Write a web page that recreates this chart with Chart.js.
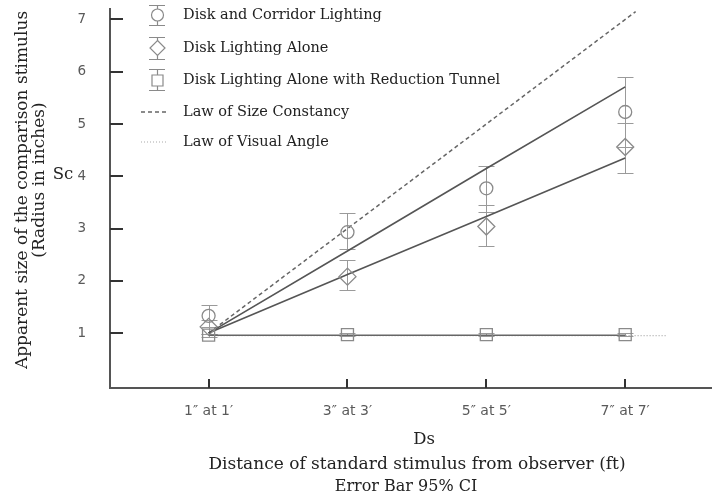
<!DOCTYPE html>
<html>
<head>
<meta charset="utf-8">
<script src="https://cdn.jsdelivr.net/npm/chart.js@4/dist/chart.umd.min.js"></script>
<style>
  html, body { margin: 0; padding: 0; background: #fff; }
  canvas { display: block; }
</style>
</head>
<body>
<canvas id="chart" width="712" height="501"></canvas>
<script>
const xValues = [1, 3, 5, 7];
const xLabels = ['1″ at 1′', '3″ at 3′', '5″ at 5′', '7″ at 7′'];
const yTicks = [1, 2, 3, 4, 5, 6, 7];

const corridorMean = [1.33, 2.93, 3.77, 5.23];
const corridorLow = [1.12, 2.6, 3.31, 4.56];
const corridorHigh = [1.53, 3.29, 4.19, 5.9];
const corridorFit = [1.0, 2.57, 4.15, 5.71];

const aloneMean = [1.12, 2.08, 3.04, 4.56];
const aloneLow = [0.99, 1.82, 2.66, 4.07];
const aloneHigh = [1.25, 2.39, 3.45, 5.02];
const aloneFit = [1.0, 2.12, 3.23, 4.35];

const tunnelMean = [0.96, 0.97, 0.97, 0.97];
const tunnelLow = [0.93, 0.94, 0.94, 0.94];
const tunnelHigh = [0.99, 1.0, 1.0, 1.0];
const tunnelFit = [0.96, 0.96, 0.96, 0.96];

const sizeConstancyX = [1, 7.15];
const sizeConstancyY = [1, 7.15];
const visualAngleX = [1, 7.6];
const visualAngleY = [0.95, 0.95];

const legendLabels = [
  'Disk and Corridor Lighting',
  'Disk Lighting Alone',
  'Disk Lighting Alone with Reduction Tunnel',
  'Law of Size Constancy',
  'Law of Visual Angle',
];

const SERIF = '"DejaVu Serif", serif';
const SANS = '"DejaVu Sans", sans-serif';

const toPoints = (xs, ys) => xs.map((x, i) => ({ x: x, y: ys[i] }));

const markerSet = (label, ys, style, radius) => ({
  label: label,
  data: toPoints(xValues, ys),
  showLine: false,
  pointStyle: style,
  pointRadius: radius,
  pointHoverRadius: radius,
  pointBorderWidth: 1.3,
  borderColor: '#8a8a8a',
  backgroundColor: 'rgba(255,255,255,0)',
});

const lineSet = (label, xs, ys, color, width, dash) => ({
  label: label,
  data: toPoints(xs, ys),
  showLine: true,
  pointRadius: 0,
  borderColor: color,
  borderWidth: width,
  borderDash: dash,
  fill: false,
  tension: 0,
});

// no extra room for tick labels: keep the plot area where the original has it
const noScalePadding = (scale) => {
  scale.paddingTop = 0;
  scale.paddingBottom = 0;
  scale.paddingLeft = 0;
  scale.paddingRight = 0;
};

// error bars, drawn from the low/high arrays through the chart scales
const errorBars = {
  id: 'errorBars',
  beforeDatasetsDraw(chart) {
    const { ctx, scales } = chart;
    const sets = [
      [corridorLow, corridorHigh],
      [aloneLow, aloneHigh],
      [tunnelLow, tunnelHigh],
    ];
    ctx.save();
    ctx.strokeStyle = '#9a9a9a';
    ctx.lineWidth = 1;
    sets.forEach(([low, high]) => {
      xValues.forEach((xv, i) => {
        const px = Math.round(scales.x.getPixelForValue(xv)) + 0.5;
        const yl = Math.round(scales.y.getPixelForValue(low[i])) + 0.5;
        const yh = Math.round(scales.y.getPixelForValue(high[i])) + 0.5;
        ctx.beginPath();
        ctx.moveTo(px, yl);
        ctx.lineTo(px, yh);
        ctx.moveTo(px - 8, yl);
        ctx.lineTo(px + 8, yl);
        ctx.moveTo(px - 8, yh);
        ctx.lineTo(px + 8, yh);
        ctx.stroke();
      });
    });
    ctx.restore();
  },
};

// tick marks point inwards in the original
const innerTicks = {
  id: 'innerTicks',
  afterDraw(chart) {
    const { ctx, scales, chartArea } = chart;
    ctx.save();
    ctx.strokeStyle = '#333';
    ctx.lineWidth = 2;
    yTicks.forEach((v) => {
      const py = Math.round(scales.y.getPixelForValue(v));
      ctx.beginPath();
      ctx.moveTo(chartArea.left, py);
      ctx.lineTo(chartArea.left + 13, py);
      ctx.stroke();
    });
    xValues.forEach((v) => {
      const px = Math.round(scales.x.getPixelForValue(v));
      ctx.beginPath();
      ctx.moveTo(px, chartArea.bottom);
      ctx.lineTo(px, chartArea.bottom - 9);
      ctx.stroke();
    });
    ctx.restore();
  },
};

const legendBox = {
  id: 'legendBox',
  afterDraw(chart) {
    const { ctx } = chart;
    const cx = 157;
    const rows = [15, 48, 80, 112, 142];
    ctx.save();
    ctx.strokeStyle = '#8a8a8a';
    ctx.lineWidth = 1.2;
    const caps = (y0, y1) => {
      ctx.beginPath();
      ctx.moveTo(cx + 0.5, y0);
      ctx.lineTo(cx + 0.5, y1);
      ctx.moveTo(cx - 8, y0 + 0.5);
      ctx.lineTo(cx + 8, y0 + 0.5);
      ctx.moveTo(cx - 8, y1 + 0.5);
      ctx.lineTo(cx + 8, y1 + 0.5);
      ctx.stroke();
    };
    caps(5, 25);
    ctx.beginPath();
    ctx.arc(cx + 0.5, rows[0], 6, 0, Math.PI * 2);
    ctx.fillStyle = '#fff';
    ctx.fill();
    ctx.stroke();
    caps(37, 59);
    ctx.beginPath();
    ctx.moveTo(cx + 0.5, rows[1] - 7.5);
    ctx.lineTo(cx + 8, rows[1]);
    ctx.lineTo(cx + 0.5, rows[1] + 7.5);
    ctx.lineTo(cx - 7, rows[1]);
    ctx.closePath();
    ctx.fill();
    ctx.stroke();
    caps(69, 90);
    ctx.beginPath();
    ctx.rect(cx - 5, rows[2] - 5, 11, 11);
    ctx.fill();
    ctx.stroke();

    ctx.strokeStyle = '#666';
    ctx.lineWidth = 1.5;
    ctx.setLineDash([4, 3]);
    ctx.beginPath();
    ctx.moveTo(141, rows[3]);
    ctx.lineTo(166, rows[3]);
    ctx.stroke();
    ctx.strokeStyle = '#aaa';
    ctx.lineWidth = 1.2;
    ctx.setLineDash([1, 2]);
    ctx.beginPath();
    ctx.moveTo(141, rows[4]);
    ctx.lineTo(166, rows[4]);
    ctx.stroke();
    ctx.setLineDash([]);

    ctx.fillStyle = '#222';
    ctx.font = '14.5px ' + SERIF;
    ctx.textAlign = 'left';
    ctx.textBaseline = 'middle';
    legendLabels.forEach((txt, i) => ctx.fillText(txt, 183, rows[i]));
    ctx.restore();
  },
};

const axisTexts = {
  id: 'axisTexts',
  afterDraw(chart) {
    const { ctx, chartArea } = chart;
    const mid = (chartArea.left + chartArea.right) / 2;
    ctx.save();
    ctx.fillStyle = '#222';
    ctx.textAlign = 'center';
    ctx.textBaseline = 'middle';
    ctx.font = '16.5px ' + SERIF;
    ctx.fillText('Ds', mid + 13, 440);
    ctx.fillText('Sc', 63, 175);
    ctx.font = '17px ' + SERIF;
    ctx.fillText('Distance of standard stimulus from observer (ft)', mid + 6, 465);
    ctx.font = '16px ' + SERIF;
    ctx.fillText('Error Bar 95% CI', mid - 5, 487);

    ctx.font = '17px ' + SERIF;
    ctx.save();
    ctx.translate(23, 190);
    ctx.rotate(-Math.PI / 2);
    ctx.fillText('Apparent size of the comparison stimulus', 0, 0);
    ctx.restore();
    ctx.save();
    ctx.translate(40, 180);
    ctx.rotate(-Math.PI / 2);
    ctx.fillText('(Radius in inches)', 0, 0);
    ctx.restore();
    ctx.restore();
  },
};

const data = {
  datasets: [
    markerSet('Disk and Corridor Lighting', corridorMean, 'circle', 6.5),
    markerSet('Disk Lighting Alone', aloneMean, 'rectRot', 8.5),
    markerSet('Disk Lighting Alone with Reduction Tunnel', tunnelMean, 'rect', 8.5),
    lineSet('Corridor fit', xValues, corridorFit, '#555', 1.6, []),
    lineSet('Alone fit', xValues, aloneFit, '#555', 1.6, []),
    lineSet('Tunnel fit', xValues, tunnelFit, '#666', 1.6, []),
    lineSet('Law of Size Constancy', sizeConstancyX, sizeConstancyY, '#666', 1.5, [4, 3]),
    lineSet('Law of Visual Angle', visualAngleX, visualAngleY, '#aaa', 1.2, [1, 2]),
  ],
};

const config = {
  type: 'line',
  data: data,
  plugins: [errorBars, innerTicks, legendBox, axisTexts],
  options: {
    responsive: false,
    animation: false,
    layout: {
      autoPadding: false,
      padding: { top: 9, right: 0, left: 0, bottom: 0 },
    },
    plugins: {
      legend: { display: false },
      tooltip: { enabled: false },
    },
    scales: {
      x: {
        type: 'linear',
        min: -0.42,
        max: 8.25,
        afterBuildTicks: (scale) => {
          scale.ticks = xValues.map((v) => ({ value: v }));
        },
        afterFit: (scale) => {
          scale.height = 113;
          noScalePadding(scale);
        },
        grid: { display: false, drawTicks: false },
        border: { display: true, color: '#555', width: 2 },
        ticks: {
          padding: 15,
          color: '#5a5a5a',
          font: { family: SANS, size: 14 },
          autoSkip: false,
          maxRotation: 0,
          callback: (value) => xLabels[xValues.indexOf(value)],
        },
      },
      y: {
        type: 'linear',
        min: -0.05,
        max: 7.2,
        afterBuildTicks: (scale) => {
          scale.ticks = yTicks.map((v) => ({ value: v }));
        },
        afterFit: (scale) => {
          scale.width = 110;
          noScalePadding(scale);
        },
        grid: { display: false, drawTicks: false },
        border: { display: true, color: '#555', width: 2 },
        ticks: {
          padding: 24,
          color: '#5a5a5a',
          font: { family: SANS, size: 13.5 },
          autoSkip: false,
        },
      },
    },
  },
};

new Chart(document.getElementById('chart'), config);
</script>
</body>
</html>
